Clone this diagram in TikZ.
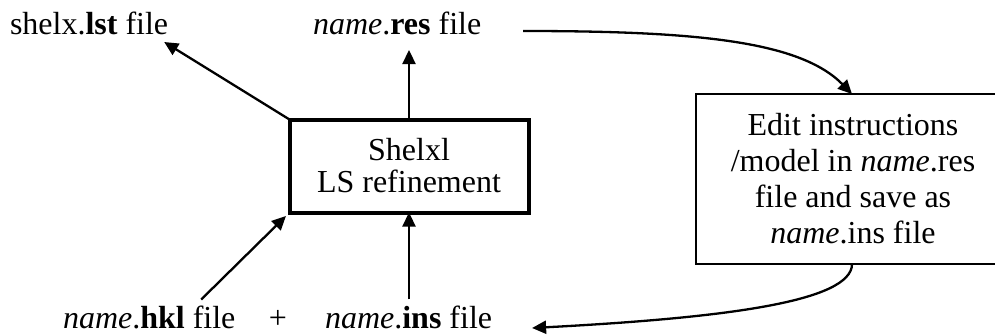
\documentclass[tikz,border=0pt]{standalone}
\usepackage{fontspec}
\setmainfont{Liberation Serif}
\usetikzlibrary{arrows.meta,calc}
\begin{document}
\begin{tikzpicture}[x=1pt,y=-1pt,
  lbl/.style={inner sep=0pt, outer sep=0pt, font=\fontsize{32}{36}\selectfont, anchor=base west},
  arr/.style={line width=2.3pt, -{Triangle[length=14pt,width=13pt]}},
  mainbox/.style={draw, line width=4pt, inner sep=0pt, outer sep=0pt, align=center,
    font=\fontsize{32}{32}\selectfont, minimum width=239pt, minimum height=93pt},
  editbox/.style={draw, line width=1.5pt, inner sep=0pt, outer sep=0pt, align=center,
    font=\fontsize{32}{36}\selectfont, minimum width=314pt, minimum height=170pt}
  ]
\useasboundingbox (0,0) rectangle (995,335);
\node[lbl] (lst) at (10,34) {shelx.\textbf{lst} file};
\node[lbl] (res) at (313,34) {\textit{name}.\textbf{res} file};
\node[mainbox] (box) at (409,166) {Shelxl\\LS refinement};
\node[editbox] (edit) at (853,179) {Edit instructions\\/model in \textit{name}.res\\file and save as\\\textit{name}.ins file};
\node[lbl] (hkl) at (63,328) {\textit{name}.\textbf{hkl} file};
\node[lbl, anchor=base] (plus) at (278,328) {+};
\node[lbl] (ins) at (325,328) {\textit{name}.\textbf{ins} file};
\coordinate (resin) at ($(res.base)+(0,16)$);
\draw[arr] (box.north west) -- ($(lst.base east)+(-4,8)$);
\draw[arr] (box.north) -- (box.north |- resin);
\draw[arr, shorten >=5pt] ($(hkl.north)+(52,-6)$) -- (box.south west);
\draw[arr] ($(ins.north -| box.south)+(0,-6)$) -- (box.south);
\draw[arr] ($(res.base east)+(42,-3)$) .. controls +(173,0) and +(-52,-53) .. ([xshift=-1pt]edit.north);
\draw[arr] ([xshift=-1pt]edit.south) .. controls +(0,38) and +(190,-10) .. ($(ins.base east)+(40,0)$);
\end{tikzpicture}
\end{document}
